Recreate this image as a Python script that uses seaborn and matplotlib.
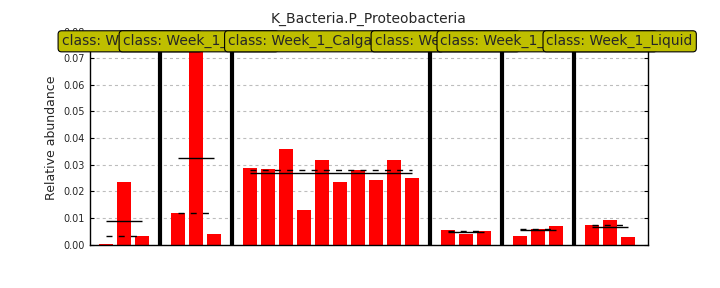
import matplotlib
matplotlib.use("Agg")
import matplotlib.pyplot as plt
import matplotlib.transforms as mtransforms
import numpy as np
import pandas as pd
import seaborn as sns

# ---------------- data ----------------
title = "K_Bacteria.P_Proteobacteria"
ylabel = "Relative abundance"
class_names = ["Week_1_Agar", "Week_1_Biofilm", "Week_1_Calgary_Device",
               "Week_1_Glass", "Week_1_Inoculum_Pellet", "Week_1_Liquid"]
week1_a = [0.0002, 0.0235, 0.0033]
week1_b = [0.0120, 0.0815, 0.0040]
week1_calgary = [0.0286, 0.0282, 0.0359, 0.0128, 0.0317,
                 0.0236, 0.0279, 0.0243, 0.0317, 0.0251]
week1_d = [0.0055, 0.0040, 0.0051]
week1_e = [0.0032, 0.0059, 0.0070]
week1_liquid = [0.0074, 0.0093, 0.0027]
group_values = [week1_a, week1_b, week1_calgary, week1_d, week1_e, week1_liquid]
yticks = [0.00, 0.01, 0.02, 0.03, 0.04, 0.05, 0.06, 0.07, 0.08]

# ---------------- layout ----------------
label_x = [-2.47, 0.92, 6.78, 14.92, 18.58, 24.47]

rows = []
seps = []
pos = 0
group_pos = []
for cname, vals in zip(class_names, group_values):
    xs = []
    for v in vals:
        rows.append({"pos": pos, "value": v, "cls": cname})
        xs.append(pos)
        pos += 1
    group_pos.append(xs)
    seps.append(pos)
    pos += 1
seps = seps[:-1]
df = pd.DataFrame(rows)

sns.set_style("white")
plt.rcParams["font.family"] = ["DejaVu Sans"]

fig = plt.figure(figsize=(7.2, 2.88), dpi=100)
ax = fig.add_axes([0.125, 0.151, 0.775, 0.7396])

sns.barplot(data=df, x="pos", y="value", native_scale=True, color="#ff0000",
            saturation=1, width=0.8, errorbar=None, linewidth=0, ax=ax, zorder=2)

for xs, vals in zip(group_pos, group_values):
    ax.hlines(np.mean(vals), xs[0], xs[-1], colors="k", lw=1, zorder=3)
    ax.hlines(np.median(vals), xs[0], xs[-1], colors="k", lw=1,
              linestyles=[(0, (4.3, 4.5))], zorder=3)

for s in seps:
    ax.axvline(s, color="k", lw=3, zorder=4)

ax.set_xlim(-0.89, 30.11)
ax.set_ylim(0, 0.08)
ax.set_yticks(yticks)
ax.set_yticklabels([f"{t:.2f}" for t in yticks])
ax.set_xticks([xs[len(xs) // 2] for xs in group_pos])
ax.set_xticklabels([])
ax.set_xlabel("")
ax.tick_params(axis="x", direction="in", length=3, width=0.8, color="k", bottom=True, top=False)
ax.tick_params(axis="y", direction="in", length=3, width=0.8, color="k",
               left=True, right=True, labelsize=7, pad=3.5)
ax.yaxis.grid(True, color="#bdbdbd", linestyle=(0, (2.75, 2.75)), lw=0.8)
ax.xaxis.grid(False)
ax.set_axisbelow(True)
for sp in ax.spines.values():
    sp.set_color("k")
    sp.set_linewidth(1)

ax.set_ylabel(ylabel, fontsize=9)
ax.set_title(title, fontsize=10, pad=6)

trans = mtransforms.blended_transform_factory(ax.transData, ax.transAxes)
for i, (cname, lx) in enumerate(zip(class_names, label_x)):
    ax.text(lx, 0.954, "class: " + cname, transform=trans, ha="left", va="center",
            fontsize=10, clip_on=False, zorder=10 + i,
            bbox=dict(boxstyle="round,pad=0.25", fc="#bfbf00", ec="k", lw=0.8))

fig.savefig("out.png", dpi=100)
